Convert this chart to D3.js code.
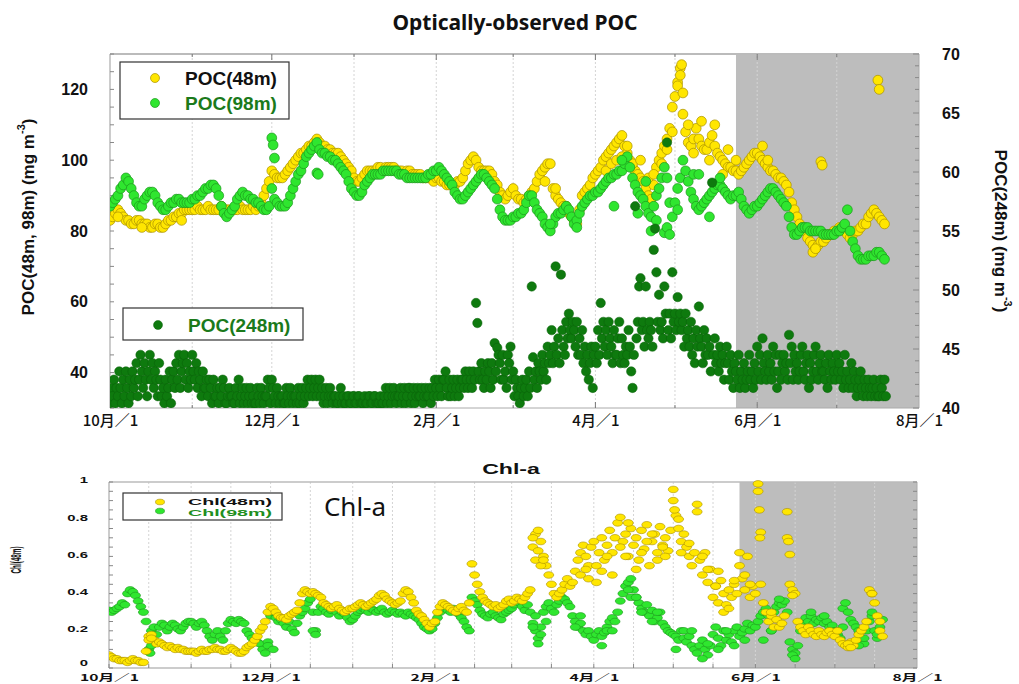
<!DOCTYPE html>
<html><head><meta charset="utf-8">
<script src="https://cdn.jsdelivr.net/npm/d3@7"></script>
<style>body{margin:0;background:#fff}</style>
</head><body>
<svg id="c" width="1019" height="684"></svg>
<script>
// ---------------- DATA ----------------
const startDate = "2015-10-01";
const endDate = "2016-08-01";
const shadeStartTop = "2016-05-24";
const shadeStartBottom = "2016-05-26";
const xTickDates = ["2015-10-01","2015-12-01","2016-02-01","2016-04-01","2016-06-01","2016-08-01"];
const xTickLabels = ["10月／1","12月／1","2月／1","4月／1","6月／1","8月／1"];
const yLeftTicks = [40,60,80,100,120];
const yRightTicks = [40,45,50,55,60,65,70];
const chlTicks = [0,0.2,0.4,0.6,0.8,1];
const chlTickLabels = ["0","0.2","0.4","0.6","0.8","1"];

// POC(48m), daily from Oct 1 (mg m-3, left axis)
const poc48 = [
83,84,85,86,85,84,83,83,82,82,83,83,82,82,82,81,81,82,82,81,81,82,83,83,84,84,85,85,86,86,86,
86,86,87,86,86,86,87,86,86,86,86,87,86,86,86,86,86,86,87,86,86,86,86,87,86,87,88,90,92,94,
97,96,95,95,95,96,97,98,99,100,101,102,102,103,104,104,105,106,105,104,104,103,103,102,102,102,101,100,99,98,97,
95,94,94,95,96,97,97,97,97,98,98,97,98,98,98,98,97,97,97,96,97,97,96,96,96,96,95,95,95,95,94,
95,95,94,94,93,93,93,93,94,94,95,97,99,100,101,100,98,97,97,97,97,96,94,93,91,90,89,90,91,
92,90,89,89,88,89,90,91,92,94,96,97,98,99,99,92,90,89,88,87,87,85,84,83,82,86,90,91,92,93,95,
96,97,98,100,101,102,103,104,105,106,107,104,102,100,98,97,96,95,94,92,90,89,93,98,100,102,104,106,109,115,
118,122,126,113,108,105,104,106,109,106,104,103,103,105,107,104,102,101,100,99,98,98,97,97,96,97,98,99,100,101,102,
102,101,100,99,98,97,97,96,95,95,94,93,91,88,86,84,82,81,80,78,77,76,75,76,77,77,78,79,79,80,
80,81,81,80,79,78,79,80,80,81,82,82,84,85,86,85,84,83,82];
// extra POC(48m) samples: [day after Oct 1, value]
const poc48Extra = [[3,84],[12,81],[27,83],[164,94],[168,92],[187,97],[189,99],[191,100],[193,101],[195,104],[197,99],[200,100],[203,95],[205,96],[208,99],[210,103],[212,108],[214,121],[215,124],[215.5,127],[216,119],[218,110],[220,102],[223,111],[226,100],[228,110],[231,96],[233,103],[236,100],[246,104],[248,100],[265,74],[266,75],[268,99.6],[268.5,98.6],[289.5,122.6],[290,120]];

// POC(98m), daily from Oct 1
const poc98 = [
87,88,89,90,92,93,95,94,92,90,88,87,87,89,90,91,91,90,88,87,86,86,87,88,88,89,89,88,88,88,88,
89,89,90,90,91,92,92,93,93,92,90,87,85,84,85,86,87,89,90,91,90,90,89,89,88,88,87,86,86,87,
92,89,88,87,87,87,88,90,92,94,96,97,99,101,102,103,104,105,103,102,102,101,101,100,100,99,98,97,96,94,92,
91,90,90,91,93,94,95,96,96,96,96,97,97,97,97,97,97,96,96,96,95,95,95,95,95,95,95,95,96,96,97,
97,98,97,96,95,94,93,91,90,89,89,90,91,92,93,94,95,96,96,95,94,93,92,89,86,84,83,83,83,
84,84,85,85,86,88,90,90,88,86,85,84,82,81,80,82,84,85,85,86,87,86,84,82,83,85,87,88,89,90,90,
91,91,92,93,94,95,95,96,96,97,97,99,101,98,95,93,91,90,89,87,85,84,87,90,92,95,98,95,88,84,
88,92,95,100,97,94,91,89,87,86,87,88,89,90,91,92,93,93,92,91,90,89,90,90,91,89,87,86,85,86,87,
87,88,89,90,91,92,92,91,90,89,88,87,84,81,79,79,80,81,81,81,80,80,80,80,80,79,79,79,79,79,
80,80,81,82,86,80,77,75,73,72,72,72,73,73,73,74,74,73,72];
const poc98Extra = [[61,106.3],[61.5,104.3],[62,100.6],[78,96.4],[78.5,96],[166,82],[176,81],[190,87],[193,100],[199,85],[202,94],[204,80],[206,83],[209,79.5],[210,81],[211,79],[214,86],[220,96],[222,96],[226,84],[230,95]];

// POC(248m), two samples per day from Oct 1 (right axis)
const poc248 = [
40.4,41.7,41.0,42.4,40.4,41.7,41.0,43.1,41.7,40.4,42.4,41.0,43.1,41.7,40.4,42.4,41.0,43.1,41.7,42.4,
43.8,41.0,42.4,44.5,43.1,41.7,43.8,42.4,41.0,43.1,44.5,42.4,43.8,41.7,43.1,42.4,41.0,43.8,42.4,41.0,
41.7,40.4,42.4,41.0,41.7,43.1,40.4,42.4,43.1,41.7,43.8,42.4,44.5,41.7,43.1,43.8,44.5,42.4,43.8,41.7,43.1,42.4,
44.5,43.1,42.4,43.8,41.7,43.1,42.4,41.0,43.1,41.7,41.7,42.4,41.0,42.4,41.7,40.4,42.4,41.0,41.0,41.7,
40.4,41.7,41.0,42.4,41.7,40.4,40.4,41.0,41.7,41.0,41.0,40.4,40.4,41.7,41.0,42.4,40.4,41.0,41.7,40.4,
41.0,41.7,40.4,41.0,41.7,40.4,41.0,40.4,40.4,41.7,41.0,40.4,41.7,41.0,40.4,41.0,41.0,42.4,41.7,40.4,
42.4,41.7,41.0,40.4,41.7,41.0,40.4,41.0,41.0,40.4,40.4,41.7,41.0,40.4,41.7,41.0,40.4,41.0,41.0,40.4,
41.7,40.4,41.0,41.7,40.4,41.0,41.7,42.4,41.0,41.7,42.4,41.0,41.7,42.4,41.0,41.7,42.4,41.0,41.7,40.4,
41.0,41.7,40.4,41.0,41.7,41.0,40.4,41.0,41.0,40.4,40.4,41.0,41.7,40.4,41.0,40.4,40.4,41.0,41.0,40.4,40.4,41.0,
41.0,40.4,40.4,41.0,41.0,40.4,40.4,40.4,41.0,40.4,40.4,41.0,41.0,40.4,40.4,41.0,41.0,40.4,40.4,40.4,
41.0,40.4,40.4,41.0,41.7,40.4,41.0,41.7,40.4,41.0,41.7,41.0,40.4,41.0,41.0,41.7,40.4,41.0,41.7,40.4,
41.0,41.7,41.7,40.4,41.0,41.7,40.4,41.0,41.7,41.0,41.0,41.7,40.4,41.0,41.7,41.0,41.0,41.7,40.4,41.7,41.0,42.4,
41.7,41.0,42.4,41.7,41.0,42.4,42.4,43.1,41.7,41.0,42.4,41.0,41.7,42.4,41.0,41.7,42.4,41.0,41.7,42.4,
42.4,41.7,43.1,42.4,41.7,43.1,42.4,41.7,43.1,42.4,48.9,47.2,43.1,42.4,43.8,42.4,41.7,43.1,42.4,43.8,
43.1,41.7,43.8,42.4,45.5,43.1,45.1,44.5,43.8,42.4,44.5,42.4,43.1,41.7,44.5,43.8,45.2,42.4,
43.1,41.0,42.4,41.7,41.0,40.4,41.7,42.4,41.0,41.7,42.4,41.0,43.1,41.7,50.3,44.3,42.4,43.1,41.7,43.8,
43.1,42.4,44.5,43.1,43.8,42.4,45.2,43.8,44.5,46.6,43.8,45.2,52.0,44.5,45.9,43.8,51.3,46.6,45.2,44.5,
47.3,45.9,48.0,46.6,45.9,47.3,46.6,45.2,47.3,44.5,45.9,44.5,46.6,43.8,45.2,43.1,44.5,42.4,43.8,45.2,41.7,44.5,
45.2,43.8,46.6,44.5,48.9,45.9,47.3,45.2,46.6,44.5,47.3,45.9,45.2,43.8,46.6,44.5,44.5,45.9,47.3,43.8,
45.9,44.5,43.8,45.2,44.5,46.6,45.2,43.1,41.7,44.5,57.1,45.9,47.3,50.3,51.0,46.6,47.3,45.2,50.3,46.6,
45.9,47.3,46.6,45.2,53.4,55.2,51.5,47.3,49.6,46.6,47.3,45.9,50.3,48.0,62.5,46.6,48.0,45.9,51.5,47.3,
48.0,46.6,49.4,47.3,48.0,46.6,47.3,45.2,48.0,45.9,46.6,45.2,47.3,44.5,45.9,43.8,46.6,45.2,48.6,45.9,
45.2,43.8,46.6,44.5,45.9,44.5,45.2,43.1,59.1,44.5,45.9,43.8,44.5,43.1,45.2,43.8,44.5,42.4,43.8,45.2,
43.8,42.4,44.5,43.1,41.7,43.8,43.1,42.4,44.5,41.7,43.1,42.4,43.8,41.7,42.4,43.1,44.5,42.4,43.1,41.7,43.8,42.4,
45.2,43.1,44.5,42.4,45.9,43.8,43.1,42.4,44.5,43.1,43.8,42.4,45.2,43.1,44.5,41.7,43.1,44.5,42.4,43.8,
44.5,43.1,43.8,42.4,46.2,43.8,45.2,42.4,44.5,43.1,43.8,42.4,43.1,44.5,45.2,43.1,42.4,43.8,44.5,41.7,
43.8,42.4,43.1,44.5,45.2,43.1,42.4,43.8,44.5,43.1,43.1,42.4,43.8,41.7,44.5,43.1,42.4,43.8,43.1,42.4,
44.5,43.1,43.8,42.4,43.1,41.7,44.5,42.4,43.1,41.7,42.4,43.8,41.7,43.1,42.4,41.0,41.7,42.4,43.1,41.7,
41.0,42.4,41.7,41.0,42.4,41.7,41.0,41.7,42.4,41.0,41.7,41.0,41.0,42.4,41.7,41.0,42.4,41.0];

// Chl-a (48m), daily from Oct 1
const chl48 = [
0.07,0.06,0.05,0.05,0.04,0.04,0.04,0.03,0.04,0.05,0.04,0.04,0.03,0.03,0.09,0.17,0.18,0.15,0.13,0.14,0.13,0.12,0.11,0.12,0.11,0.10,0.11,0.10,0.10,0.09,0.09,
0.09,0.09,0.08,0.09,0.10,0.09,0.09,0.10,0.10,0.11,0.10,0.10,0.09,0.09,0.10,0.11,0.10,0.09,0.08,0.08,0.09,0.11,0.12,0.13,0.15,0.17,0.20,0.22,0.25,0.30,
0.33,0.32,0.30,0.28,0.27,0.27,0.26,0.28,0.29,0.30,0.31,0.35,0.40,0.42,0.41,0.40,0.41,0.40,0.39,0.38,0.35,0.34,0.33,0.32,0.33,0.34,0.32,0.31,0.30,0.31,0.32,
0.32,0.33,0.34,0.35,0.34,0.33,0.34,0.35,0.36,0.37,0.39,0.40,0.39,0.37,0.36,0.35,0.34,0.35,0.36,0.40,0.42,0.41,0.38,0.35,0.31,0.29,0.28,0.26,0.24,0.22,0.24,
0.25,0.30,0.33,0.35,0.34,0.33,0.32,0.31,0.30,0.32,0.33,0.31,0.30,0.35,0.56,0.50,0.45,0.41,0.38,0.36,0.35,0.34,0.33,0.34,0.32,0.33,0.34,0.36,0.37,
0.35,0.36,0.38,0.37,0.36,0.38,0.40,0.42,0.65,0.72,0.74,0.68,0.60,0.55,0.50,0.45,0.40,0.38,0.40,0.42,0.45,0.48,0.44,0.46,0.52,0.58,0.62,0.66,0.60,0.55,0.65,
0.68,0.55,0.62,0.70,0.58,0.66,0.74,0.62,0.70,0.78,0.81,0.68,0.72,0.60,0.75,0.66,0.70,0.58,0.74,0.64,0.77,0.55,0.68,0.72,0.62,0.76,0.66,0.70,0.63,0.74,
0.96,0.82,0.75,0.68,0.72,0.65,0.60,0.55,0.62,0.88,0.58,0.50,0.62,0.46,0.53,0.38,0.44,0.35,0.47,0.40,0.34,0.42,0.38,0.45,0.40,0.55,0.48,0.42,0.60,0.38,0.44,
0.40,0.99,0.73,0.35,0.30,0.25,0.28,0.22,0.26,0.22,0.24,0.28,0.84,0.45,0.42,0.40,0.25,0.22,0.20,0.18,0.22,0.20,0.18,0.17,0.20,0.18,0.17,0.19,0.20,0.18,
0.17,0.20,0.15,0.13,0.12,0.11,0.14,0.12,0.15,0.18,0.20,0.22,0.25,0.42,0.40,0.35,0.28,0.20,0.17];
const chl48Extra = [[15,0.15],[16,0.16],[160,0.70],[161,0.58],[162,0.63],[163,0.55],[164,0.58],[178,0.50],[180,0.53],[181,0.48],[184,0.46],[186,0.52],[188,0.60],[190,0.50],[193,0.65],[195,0.60],[196,0.78],[199,0.53],[201,0.62],[203,0.68],[205,0.72],[207,0.58],[209,0.65],[210,0.60],[213,0.90],[213.5,0.85],[215,0.80],[216,0.62],[219,0.67],[222,0.84],[224,0.60],[226,0.53],[229,0.44],[230,0.52],[232,0.30],[234,0.32],[236,0.47],[238,0.62],[240,0.50],[242,0.45],[245,0.95],[245.5,0.85],[245.7,0.70],[246,0.45],[250,0.30],[256,0.70],[256.5,0.68],[257,0.61],[258,0.39],[279,0.13],[280,0.11],[288,0.40],[291,0.25]];

// Chl-a (98m), daily from Oct 1
const chl98 = [
0.31,0.30,0.31,0.32,0.33,0.35,0.34,0.40,0.42,0.41,0.39,0.36,0.33,0.30,0.25,0.10,0.20,0.22,0.18,0.22,0.24,0.23,0.20,0.22,0.24,0.23,0.21,0.20,0.22,0.24,0.25,
0.25,0.24,0.22,0.24,0.25,0.23,0.20,0.17,0.15,0.18,0.20,0.17,0.15,0.20,0.24,0.26,0.25,0.24,0.26,0.25,0.24,0.20,0.18,0.16,0.15,0.14,0.13,0.10,0.08,0.14,
0.28,0.30,0.27,0.25,0.26,0.24,0.22,0.25,0.21,0.19,0.24,0.28,0.30,0.32,0.35,0.37,0.30,0.20,0.30,0.33,0.32,0.30,0.29,0.31,0.32,0.30,0.28,0.30,0.29,0.27,0.25,
0.26,0.28,0.30,0.31,0.32,0.31,0.30,0.32,0.31,0.30,0.31,0.32,0.30,0.29,0.30,0.31,0.30,0.29,0.30,0.29,0.28,0.30,0.29,0.28,0.27,0.26,0.24,0.22,0.21,0.20,0.21,
0.24,0.27,0.30,0.32,0.33,0.31,0.30,0.32,0.30,0.29,0.27,0.25,0.22,0.20,0.38,0.36,0.34,0.31,0.29,0.28,0.27,0.29,0.30,0.28,0.27,0.26,0.29,0.30,0.31,
0.32,0.34,0.36,0.35,0.33,0.31,0.34,0.30,0.24,0.20,0.16,0.22,0.30,0.33,0.35,0.32,0.30,0.34,0.36,0.38,0.37,0.35,0.33,0.28,0.25,0.22,0.24,0.20,0.18,0.20,0.17,
0.15,0.18,0.20,0.17,0.19,0.22,0.25,0.27,0.25,0.30,0.36,0.40,0.44,0.46,0.48,0.42,0.38,0.35,0.32,0.30,0.34,0.28,0.31,0.25,0.27,0.30,0.24,0.22,0.20,0.19,
0.18,0.17,0.15,0.20,0.16,0.14,0.17,0.12,0.10,0.08,0.12,0.15,0.10,0.07,0.12,0.18,0.22,0.16,0.12,0.20,0.15,0.18,0.14,0.20,0.22,0.17,0.19,0.21,0.24,0.20,0.23,
0.22,0.25,0.28,0.30,0.32,0.28,0.20,0.30,0.33,0.35,0.34,0.36,0.30,0.14,0.10,0.08,0.12,0.20,0.24,0.27,0.25,0.28,0.24,0.26,0.25,0.27,0.24,0.25,0.22,0.23,
0.20,0.18,0.16,0.32,0.35,0.30,0.26,0.24,0.22,0.20,0.15,0.13,0.20,0.25,0.28,0.20,0.16,0.22,0.26];
const chl98Extra = [[15.5,0.08],[16,0.12],[60,0.12],[62,0.10],[77,0.20],[78,0.18],[160,0.22],[161,0.28],[162,0.13],[163,0.18],[165,0.25],[176,0.22],[178,0.28],[186,0.12],[188,0.20],[190,0.20],[196,0.42],[197,0.38],[199,0.38],[201,0.30],[205,0.25],[207,0.30],[214,0.10],[217,0.20],[220,0.20],[224,0.05],[226,0.13],[230,0.10],[233,0.20],[236,0.12],[240,0.15],[247,0.15],[250,0.20],[253,0.37],[258,0.07],[259,0.05],[265,0.30],[270,0.28],[277,0.22],[283,0.12],[285,0.16],[288,0.30],[290,0.18]];

// ---------------- DRAW ----------------
const svg = d3.select("#c");
const F = "'Liberation Sans', Arial, Helvetica, sans-serif";
const CJK = "'Noto Sans CJK JP', 'Noto Sans CJK SC', sans-serif";
const TITLEF = "'Noto Sans', 'Open Sans', sans-serif";
const parse = s => new Date(s + "T00:00:00Z");
const t0 = parse(startDate), t1 = parse(endDate);
const dayToDate = d => new Date(t0.getTime() + d * 864e5);
const daily = a => a.map((v, i) => ({d: dayToDate(i), v}));
const half = a => a.map((v, i) => ({d: dayToDate(i / 2), v}));
const extra = a => a.map(([dd, v]) => ({d: dayToDate(dd), v}));
const labeledSet = new Set(xTickDates.map(s => parse(s).getTime()));

const YEL = {fill: "#ffe600", stroke: "#a88f00"};
const LGR = {fill: "#2fe62f", stroke: "#1d961d"};
const DGR = {fill: "#0e7a0e", stroke: "#0a600a"};

// ===== TOP PANEL =====
const T = {l: 110, r: 919, t: 54, b: 408};
const xT = d3.scaleUtc([t0, t1], [T.l, T.r]);
const yL = d3.scaleLinear([30, 130], [T.b, T.t]);
const yR = d3.scaleLinear([40, 70], [T.b, T.t]);

svg.append("text").attr("x", 515).attr("y", 30).attr("text-anchor", "middle")
  .attr("font-family", TITLEF).attr("font-weight", "bold").attr("font-size", 21).attr("fill", "#111")
  .text("Optically-observed POC");

svg.append("defs").call(d => {
  d.append("clipPath").attr("id", "clipT").append("rect")
    .attr("x", T.l).attr("y", T.t).attr("width", T.r - T.l).attr("height", T.b - T.t);
});
const topG = svg.append("g");
topG.append("rect").attr("x", xT(parse(shadeStartTop))).attr("y", T.t)
  .attr("width", T.r - xT(parse(shadeStartTop))).attr("height", T.b - T.t).attr("fill", "#bdbdbd");

const monthsT = d3.utcMonth.range(d3.utcMonth.offset(t0, 1), t1);
topG.selectAll(".gridT").data(monthsT).join("line")
  .attr("x1", d => xT(d)).attr("x2", d => xT(d)).attr("y1", T.t).attr("y2", T.b)
  .attr("stroke", "#d4d4d4").attr("stroke-width", 1).attr("stroke-dasharray", "2,2");

// frame
topG.append("line").attr("x1", T.l).attr("x2", T.r).attr("y1", T.t).attr("y2", T.t).attr("stroke", "#bbb").attr("stroke-width", 2);
topG.append("line").attr("x1", T.r).attr("x2", T.r).attr("y1", T.t).attr("y2", T.b).attr("stroke", "#aaa");
topG.append("line").attr("x1", T.l).attr("x2", T.l).attr("y1", T.t).attr("y2", T.b).attr("stroke", "#999");
topG.append("line").attr("x1", T.l).attr("x2", T.r).attr("y1", T.b).attr("y2", T.b).attr("stroke", "#aaa");
// ticks
topG.selectAll(".tkL").data(d3.range(30, 131, 5)).join("line")
  .attr("x1", T.l).attr("x2", T.l + 4).attr("y1", d => yL(d)).attr("y2", d => yL(d)).attr("stroke", "#888");
topG.selectAll(".tkR").data(d3.range(40, 71, 1)).join("line")
  .attr("x1", T.r).attr("x2", d => T.r - (d % 5 === 0 ? 6 : 4)).attr("y1", d => yR(d)).attr("y2", d => yR(d)).attr("stroke", "#888");
topG.selectAll(".tkB").data(monthsT).join("line")
  .attr("x1", d => xT(d)).attr("x2", d => xT(d)).attr("y1", T.b).attr("y2", d => T.b - (labeledSet.has(d.getTime()) ? 6 : 3)).attr("stroke", "#777");
topG.selectAll(".tkTop").data(monthsT).join("line")
  .attr("x1", d => xT(d)).attr("x2", d => xT(d)).attr("y1", T.t).attr("y2", d => T.t + (labeledSet.has(d.getTime()) ? 6 : 3)).attr("stroke", "#777");

// points
const ptsT = svg.append("g").attr("clip-path", "url(#clipT)");
function dots(g, data, x, y, sty, r, sw) {
  g.append("g").selectAll("circle").data(data).join("circle")
    .attr("cx", d => x(d.d)).attr("cy", d => y(d.v)).attr("r", r)
    .attr("fill", sty.fill).attr("stroke", sty.stroke).attr("stroke-width", sw);
}
dots(ptsT, daily(poc48).concat(extra(poc48Extra)), xT, yL, YEL, 4.9, 0.7);
dots(ptsT, daily(poc98).concat(extra(poc98Extra)), xT, yL, LGR, 4.9, 0.7);
dots(ptsT, half(poc248), xT, yR, DGR, 4.7, 0.5);

// axes labels
const gxT = svg.append("g").attr("transform", `translate(0,${T.b})`)
  .call(d3.axisBottom(xT).tickValues(xTickDates.map(parse)).tickFormat((d, i) => xTickLabels[i]).tickSize(0).tickPadding(7));
gxT.select(".domain").remove();
gxT.selectAll("text").attr("font-family", CJK).attr("font-weight", 500).attr("font-size", 15).attr("fill", "#111");

const gyL = svg.append("g").attr("transform", `translate(${T.l},0)`)
  .call(d3.axisLeft(yL).tickValues(yLeftTicks).tickSize(0).tickPadding(22));
gyL.select(".domain").remove();
gyL.selectAll("text").attr("font-family", F).attr("font-weight", "bold").attr("font-size", 16).attr("fill", "#111");

const gyR = svg.append("g").attr("transform", `translate(${T.r},0)`)
  .call(d3.axisRight(yR).tickValues(yRightTicks).tickSize(0).tickPadding(23));
gyR.select(".domain").remove();
gyR.selectAll("text").attr("font-family", F).attr("font-weight", "bold").attr("font-size", 16).attr("fill", "#111");

// axis titles
function unitTitle(x, y, rot, main) {
  const t = svg.append("text").attr("transform", `translate(${x},${y}) rotate(${rot})`)
    .attr("text-anchor", "middle").attr("dominant-baseline", "central")
    .attr("font-family", F).attr("font-weight", "bold").attr("font-size", 17).attr("fill", "#111");
  t.append("tspan").text(main + " (mg m");
  t.append("tspan").attr("font-size", 11).attr("dy", -7).text("-3");
  t.append("tspan").attr("dy", 7).text(")");
}
unitTitle(28, 217, -90, "POC(48m, 98m)");
unitTitle(1001, 231, 90, "POC(248m)");

// legends top
function legBox(x, y, w, h) {
  svg.append("rect").attr("x", x).attr("y", y).attr("width", w).attr("height", h)
    .attr("fill", "#fff").attr("stroke", "#333").attr("stroke-width", 1.2);
}
legBox(120, 62, 169, 57);
svg.append("circle").attr("cx", 155).attr("cy", 78).attr("r", 4.5).attr("fill", YEL.fill).attr("stroke", YEL.stroke).attr("stroke-width", 0.7);
svg.append("circle").attr("cx", 155).attr("cy", 103).attr("r", 4.5).attr("fill", LGR.fill).attr("stroke", LGR.stroke).attr("stroke-width", 0.7);
svg.append("text").attr("x", 185).attr("y", 85).attr("font-family", F).attr("font-weight", "bold").attr("font-size", 19).attr("fill", "#111").text("POC(48m)");
svg.append("text").attr("x", 185).attr("y", 110).attr("font-family", F).attr("font-weight", "bold").attr("font-size", 19).attr("fill", "#1b7a1b").text("POC(98m)");
legBox(123, 308, 180, 32);
svg.append("circle").attr("cx", 158).attr("cy", 325).attr("r", 4.5).attr("fill", DGR.fill).attr("stroke", DGR.stroke).attr("stroke-width", 0.5);
svg.append("text").attr("x", 188).attr("y", 332).attr("font-family", F).attr("font-weight", "bold").attr("font-size", 19).attr("fill", "#1b7a1b").text("POC(248m)");

// ===== BOTTOM PANEL =====
const B = {l: 109, r: 917, t: 482, b: 668};
const SX = 1.65;
const xB = d3.scaleUtc([t0, t1], [B.l, B.r]);
const yB = d3.scaleLinear([0, 1], [B.b, B.t]);

svg.select("defs").append("clipPath").attr("id", "clipB").append("rect")
  .attr("x", B.l).attr("y", B.t - 3).attr("width", B.r - B.l).attr("height", B.b - B.t + 3);

const botG = svg.append("g");
botG.append("rect").attr("x", xB(parse(shadeStartBottom))).attr("y", B.t)
  .attr("width", B.r - xB(parse(shadeStartBottom))).attr("height", B.b - B.t).attr("fill", "#bdbdbd");
const halfMonths = [];
d3.utcMonth.range(t0, t1).forEach(m => { halfMonths.push(m); halfMonths.push(d3.utcDay.offset(m, 15)); });
const gridB = halfMonths.filter(d => d > t0);
botG.selectAll(".gridB").data(gridB).join("line")
  .attr("x1", d => xB(d)).attr("x2", d => xB(d)).attr("y1", B.t).attr("y2", B.b)
  .attr("stroke", "#d4d4d4").attr("stroke-width", 1).attr("stroke-dasharray", "2,2");
botG.append("line").attr("x1", B.l).attr("x2", B.r).attr("y1", B.t).attr("y2", B.t).attr("stroke", "#bbb").attr("stroke-width", 1.5);
botG.append("line").attr("x1", B.r).attr("x2", B.r).attr("y1", B.t).attr("y2", B.b).attr("stroke", "#aaa");
botG.append("line").attr("x1", B.l).attr("x2", B.l).attr("y1", B.t).attr("y2", B.b).attr("stroke", "#999");
botG.append("line").attr("x1", B.l).attr("x2", B.r).attr("y1", B.b).attr("y2", B.b).attr("stroke", "#999");
const minorB = d3.range(0, 1.0001, 0.05);
botG.selectAll(".tkBL").data(minorB).join("line")
  .attr("x1", B.l).attr("x2", B.l + 4).attr("y1", d => yB(d)).attr("y2", d => yB(d)).attr("stroke", "#888");
botG.selectAll(".tkBR").data(minorB).join("line")
  .attr("x1", B.r).attr("x2", B.r - 4).attr("y1", d => yB(d)).attr("y2", d => yB(d)).attr("stroke", "#888");
botG.selectAll(".tkBB").data(halfMonths).join("line")
  .attr("x1", d => xB(d)).attr("x2", d => xB(d)).attr("y1", B.b).attr("y2", B.b - 4).attr("stroke", "#888");

const ptsB = svg.append("g").attr("clip-path", "url(#clipB)");
function ovals(g, data, sty) {
  g.append("g").selectAll("ellipse").data(data).join("ellipse")
    .attr("cx", d => xB(d.d)).attr("cy", d => yB(d.v)).attr("rx", 5).attr("ry", 3.3)
    .attr("fill", sty.fill).attr("stroke", sty.stroke).attr("stroke-width", 0.6);
}
ovals(ptsB, daily(chl98).concat(extra(chl98Extra)), LGR);
ovals(ptsB, daily(chl48).concat(extra(chl48Extra)), YEL);

const gxB = svg.append("g").attr("transform", `translate(0,${B.b})`)
  .call(d3.axisBottom(xB).tickValues(xTickDates.map(parse)).tickFormat((d, i) => xTickLabels[i]).tickSize(0).tickPadding(6));
gxB.select(".domain").remove();
gxB.selectAll("text").attr("font-family", CJK).attr("font-weight", "bold").attr("font-size", 9.5)
  .attr("fill", "#111").attr("transform", `scale(${SX},1)`);

const gyB = svg.append("g").attr("transform", `translate(${B.l},0)`)
  .call(d3.axisLeft(yB).tickValues(chlTicks).tickFormat((d, i) => chlTickLabels[i]).tickSize(0).tickPadding(21));
gyB.select(".domain").remove();
gyB.selectAll("text").attr("font-family", F).attr("font-weight", "bold").attr("font-size", 9)
  .attr("fill", "#111").attr("x", -21 / SX).attr("dy", d => d === 0 ? "-0.3em" : "0.1em")
  .attr("transform", `scale(${SX},1)`);

function sText(x, y, str, size, color, anchor) {
  return svg.append("text").attr("transform", `translate(${x},${y}) scale(${SX},1)`)
    .attr("text-anchor", anchor || "start").attr("font-family", F).attr("font-weight", "bold")
    .attr("font-size", size).attr("fill", color).text(str);
}
sText(511, 474, "Chl-a", 14, "#111", "middle");
svg.append("text").attr("transform", `translate(21,560) scale(${SX},1) rotate(-90)`)
  .attr("text-anchor", "middle").attr("font-family", F).attr("font-weight", "bold")
  .attr("font-size", 9).attr("textLength", 27).attr("lengthAdjust", "spacingAndGlyphs")
  .attr("fill", "#111").text("Chl(48m)");

svg.append("text").attr("x", 355).attr("y", 516).attr("text-anchor", "middle")
  .attr("font-family", TITLEF).attr("font-size", 26).attr("fill", "#111").text("Chl-a");

legBox(123, 493, 159, 27);
svg.append("ellipse").attr("cx", 160).attr("cy", 502).attr("rx", 4.5).attr("ry", 2.8).attr("fill", YEL.fill).attr("stroke", YEL.stroke).attr("stroke-width", 0.6);
svg.append("ellipse").attr("cx", 160).attr("cy", 511).attr("rx", 4.5).attr("ry", 2.8).attr("fill", LGR.fill).attr("stroke", LGR.stroke).attr("stroke-width", 0.6);
sText(188, 505, "Chl(48m)", 9, "#111").attr("textLength", 84 / SX).attr("lengthAdjust", "spacingAndGlyphs");
sText(188, 515.5, "Chl(98m)", 9, "#1f8f1f").attr("textLength", 84 / SX).attr("lengthAdjust", "spacingAndGlyphs");
</script>
</body></html>
